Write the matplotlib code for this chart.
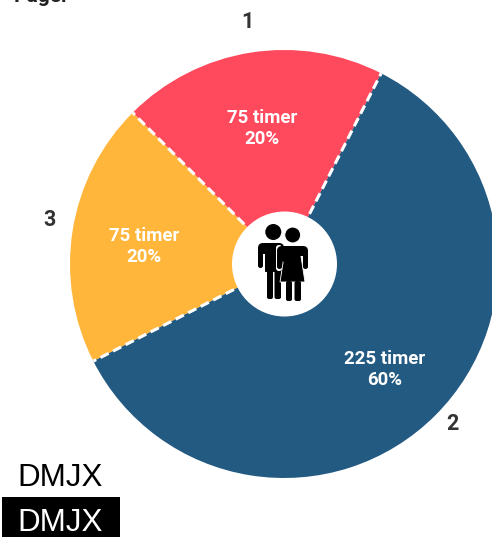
import numpy as np
import matplotlib
matplotlib.use('Agg')
import matplotlib.pyplot as plt
from matplotlib.patches import Circle, FancyBboxPatch, Polygon, Rectangle

W, H = 492, 537
CX, CY, R = 284, H - 264, 214

# order is counter-clockwise from the start angle
groups = ['1', '3', '2']
hours = [75, 75, 225]
shares = [20, 20, 60]
colors = ['#FF4A5E', '#FFB63B', '#235A82']
label_pos = [(262, 128.5), (144, 246.5), (385, 369.5)]
group_pos = [(247, 22), (50, 220.5), (452, 424)]
START = 63


def yy(y):
    return H - y


def box(ax, x0, y0, x1, y1, rad=2.0, color='black'):
    ax.add_patch(FancyBboxPatch((x0 + rad, yy(y1) + rad), x1 - x0 - 2 * rad, y1 - y0 - 2 * rad,
                                boxstyle='round,pad=%f' % rad, fc=color, ec='none', zorder=6))


def draw_people(ax):
    # mand
    ax.add_patch(Circle((273.3, yy(232)), 8, fc='black', ec='none', zorder=6))
    box(ax, 258, 243, 284, 254, 5)
    box(ax, 258, 248, 263, 268, 2.4)
    box(ax, 265, 248, 283, 272, 1)
    box(ax, 267, 268, 273, 299, 2)
    box(ax, 274.5, 268, 281, 299, 2)
    # kvinde, hvid kant mod manden
    ax.add_patch(Circle((292.7, yy(235)), 8, fc='black', ec='white', lw=0.8, zorder=6))
    box(ax, 276, 245, 282, 271, 2.8, 'white')
    skirt = [(285, yy(250)), (300, yy(250)), (305, yy(282)), (280, yy(282))]
    ax.add_patch(Polygon(skirt, closed=True, fc='black', ec='white', lw=0.6, zorder=6))
    box(ax, 277, 246, 308, 256, 5)
    box(ax, 303, 249, 308, 269, 2.4)
    box(ax, 277, 249, 282, 269, 2.4)
    box(ax, 283, 250, 300, 262, 1)
    box(ax, 286, 281, 292, 301, 2)
    box(ax, 294.5, 281, 301, 301, 2)


fig = plt.figure(figsize=(W / 100, H / 100), dpi=100)
ax = fig.add_axes([0, 0, 1, 1])
ax.pie(hours, colors=colors, startangle=START, counterclock=True, center=(CX, CY), radius=R,
       wedgeprops={'linewidth': 0})
ax.set_xlim(0, W)
ax.set_ylim(0, H)
ax.set_aspect('auto')
ax.axis('off')

# stiplede skillelinjer mellem segmenterne
edges = START + np.cumsum([0] + hours[:-1]) / sum(hours) * 360
for a in np.deg2rad(edges):
    ax.plot([CX, CX + R * np.cos(a)], [CY, CY + R * np.sin(a)], color='white', lw=2.2,
            dashes=(3, 1.6), zorder=3)

ax.add_patch(Circle((CX + 0.5, CY), 52.5, fc='white', ec='none', zorder=5))
draw_people(ax)

for h, s, (x, y) in zip(hours, shares, label_pos):
    ax.text(x, yy(y), '%d timer\n%d%%' % (h, s), color='white', family='Roboto', weight='bold',
            fontsize=13.4, ha='center', va='center', linespacing=1.18, zorder=4)
for g, (x, y) in zip(groups, group_pos):
    ax.text(x, yy(y), g, color='#333333', family='Roboto', weight='bold', fontsize=15.5,
            ha='center', va='center')

ax.text(14, yy(1.5), 'Pager', color='#222222', family='Roboto', weight='bold', fontsize=15,
        ha='left', va='baseline')

ax.text(17.5, yy(486), 'DMJX', color='black', family='Liberation Sans', fontsize=22.6, ha='left',
        va='baseline')
ax.add_patch(Rectangle((2, 0), 118, 40, fc='black', ec='none'))
ax.text(17.5, yy(531), 'DMJX', color='white', family='Liberation Sans', fontsize=22.6, ha='left',
        va='baseline')

plt.savefig('out.png', dpi=100)
plt.close()
